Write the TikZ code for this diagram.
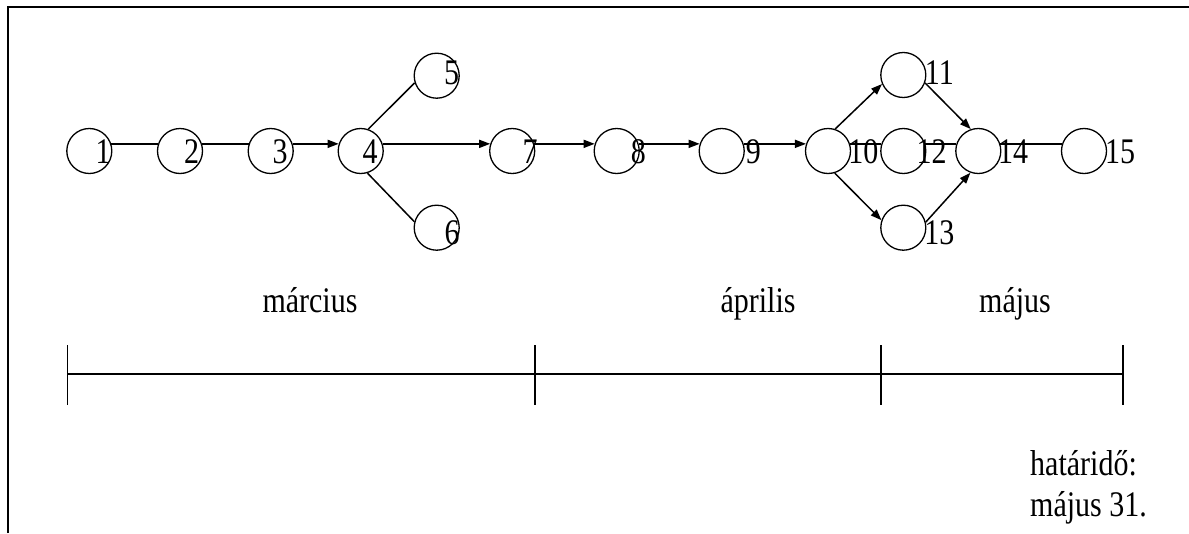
\documentclass[tikz,border=0pt]{standalone}
\usepackage{fontspec}
\setmainfont{Liberation Serif}
\usepackage{graphicx}
\usetikzlibrary{arrows.meta}
\newcommand{\tx}[1]{\scalebox{1}[1.2]{#1}}
\begin{document}
\begin{tikzpicture}[x=1pt,y=-1pt,
  circ/.style={circle,draw,line width=1.3pt,minimum size=45pt,inner sep=0pt},
  lab/.style={inner sep=0pt,font=\fontsize{30}{33}\selectfont},
  conn/.style={line width=1.5pt},
  arr/.style={line width=1.5pt,-{Triangle[length=11pt,width=8pt]}},
  frame/.style={line width=2pt},
  axis/.style={line width=2pt}]
\useasboundingbox (0,0) rectangle (1189,533);
% frame
\draw[frame] (7.7,533) -- (7.7,6.7) -- (1189,6.7);
% circles
\node[circ] (n1) at (89.3,151) {};
\node[circ] (n2) at (180,151) {};
\node[circ] (n3) at (270.7,151) {};
\node[circ] (n4) at (360.7,151) {};
\node[circ] (n5) at (436.7,75.7) {};
\node[circ] (n6) at (436.7,227.7) {};
\node[circ] (n7) at (512.2,151) {};
\node[circ] (n8) at (616.7,151) {};
\node[circ] (n9) at (721.7,151) {};
\node[circ] (n10) at (828,151) {};
\node[circ] (n11) at (903.3,75) {};
\node[circ] (n12) at (903.3,151) {};
\node[circ] (n13) at (903.3,227.7) {};
\node[circ] (n14) at (978.3,151) {};
\node[circ] (n15) at (1084,151) {};
% connectors
\draw[conn] (n1.18) -- (n2.162);
\draw[conn] (n2.18) -- (n3.162);
\draw[arr] (n3.18) -- (n4.162);
\draw[arr] (n4.18) -- (n7.162);
\draw[conn] (n4.71.5) -- (n5.198);
\draw[conn] (n4.287.6) -- (n6.165.6);
\draw[arr] (n7.18) -- (n8.162);
\draw[arr] (n8.18) -- (n9.162);
\draw[arr] (n9.18) -- (n10.162);
\draw[conn] (n10.18) -- (n12.162);
\draw[conn] (n12.18) -- (n14.162);
\draw[conn] (n14.18) -- (n15.162);
\draw[arr] (n10.72.9) -- (n11.203.2);
\draw[arr] (n11.340.5) -- (n14.109.3);
\draw[arr] (n10.287.4) -- (n13.161.7);
\draw[arr] (n13.14.4) -- (n14.250.9);
% labels
\node[lab] (l1) at (103,151.7) {\tx{1}};
\node[lab] (l2) at (191.7,151.7) {\tx{2}};
\node[lab] (l3) at (280,151.7) {\tx{3}};
\node[lab] (l4) at (370,151.7) {\tx{4}};
\node[lab] (l5) at (451.7,72.5) {\tx{5}};
\node[lab] (l6) at (452,233) {\tx{6}};
\node[lab] (l7) at (530,151.7) {\tx{7}};
\node[lab] (l8) at (638.3,151.7) {\tx{8}};
\node[lab] (l9) at (753.3,151.7) {\tx{9}};
\node[lab] (l10) at (863.3,151.7) {\tx{10}};
\node[lab] (l11) at (939.3,73) {\tx{11}};
\node[lab] (l12) at (931.7,151.7) {\tx{12}};
\node[lab] (l13) at (939.3,233) {\tx{13}};
\node[lab] (l14) at (1013,151.7) {\tx{14}};
\node[lab] (l15) at (1120,151.7) {\tx{15}};
% timeline
\coordinate (t0) at (67.3,374);
\coordinate (t1) at (535,374);
\coordinate (t2) at (881,374);
\coordinate (t3) at (1123,374);
\draw[axis] (t0) -- (t3);
\foreach \t in {t0,t1,t2,t3} \draw[line width=1.5pt] ([yshift=-30.7pt]\t) -- ([yshift=29.3pt]\t);
\node[lab,anchor=base] (m1) at (310,312) {\tx{március}};
\node[lab,anchor=base] (m2) at (758,312) {\tx{április}};
\node[lab,anchor=base] (m3) at (1015,312) {\tx{május}};
\node[lab,anchor=base west] (d1) at (1030,475) {\tx{határidő:}};
\node[lab,anchor=base west] (d2) at (1030,516) {\tx{május 31.}};
\end{tikzpicture}
\end{document}
